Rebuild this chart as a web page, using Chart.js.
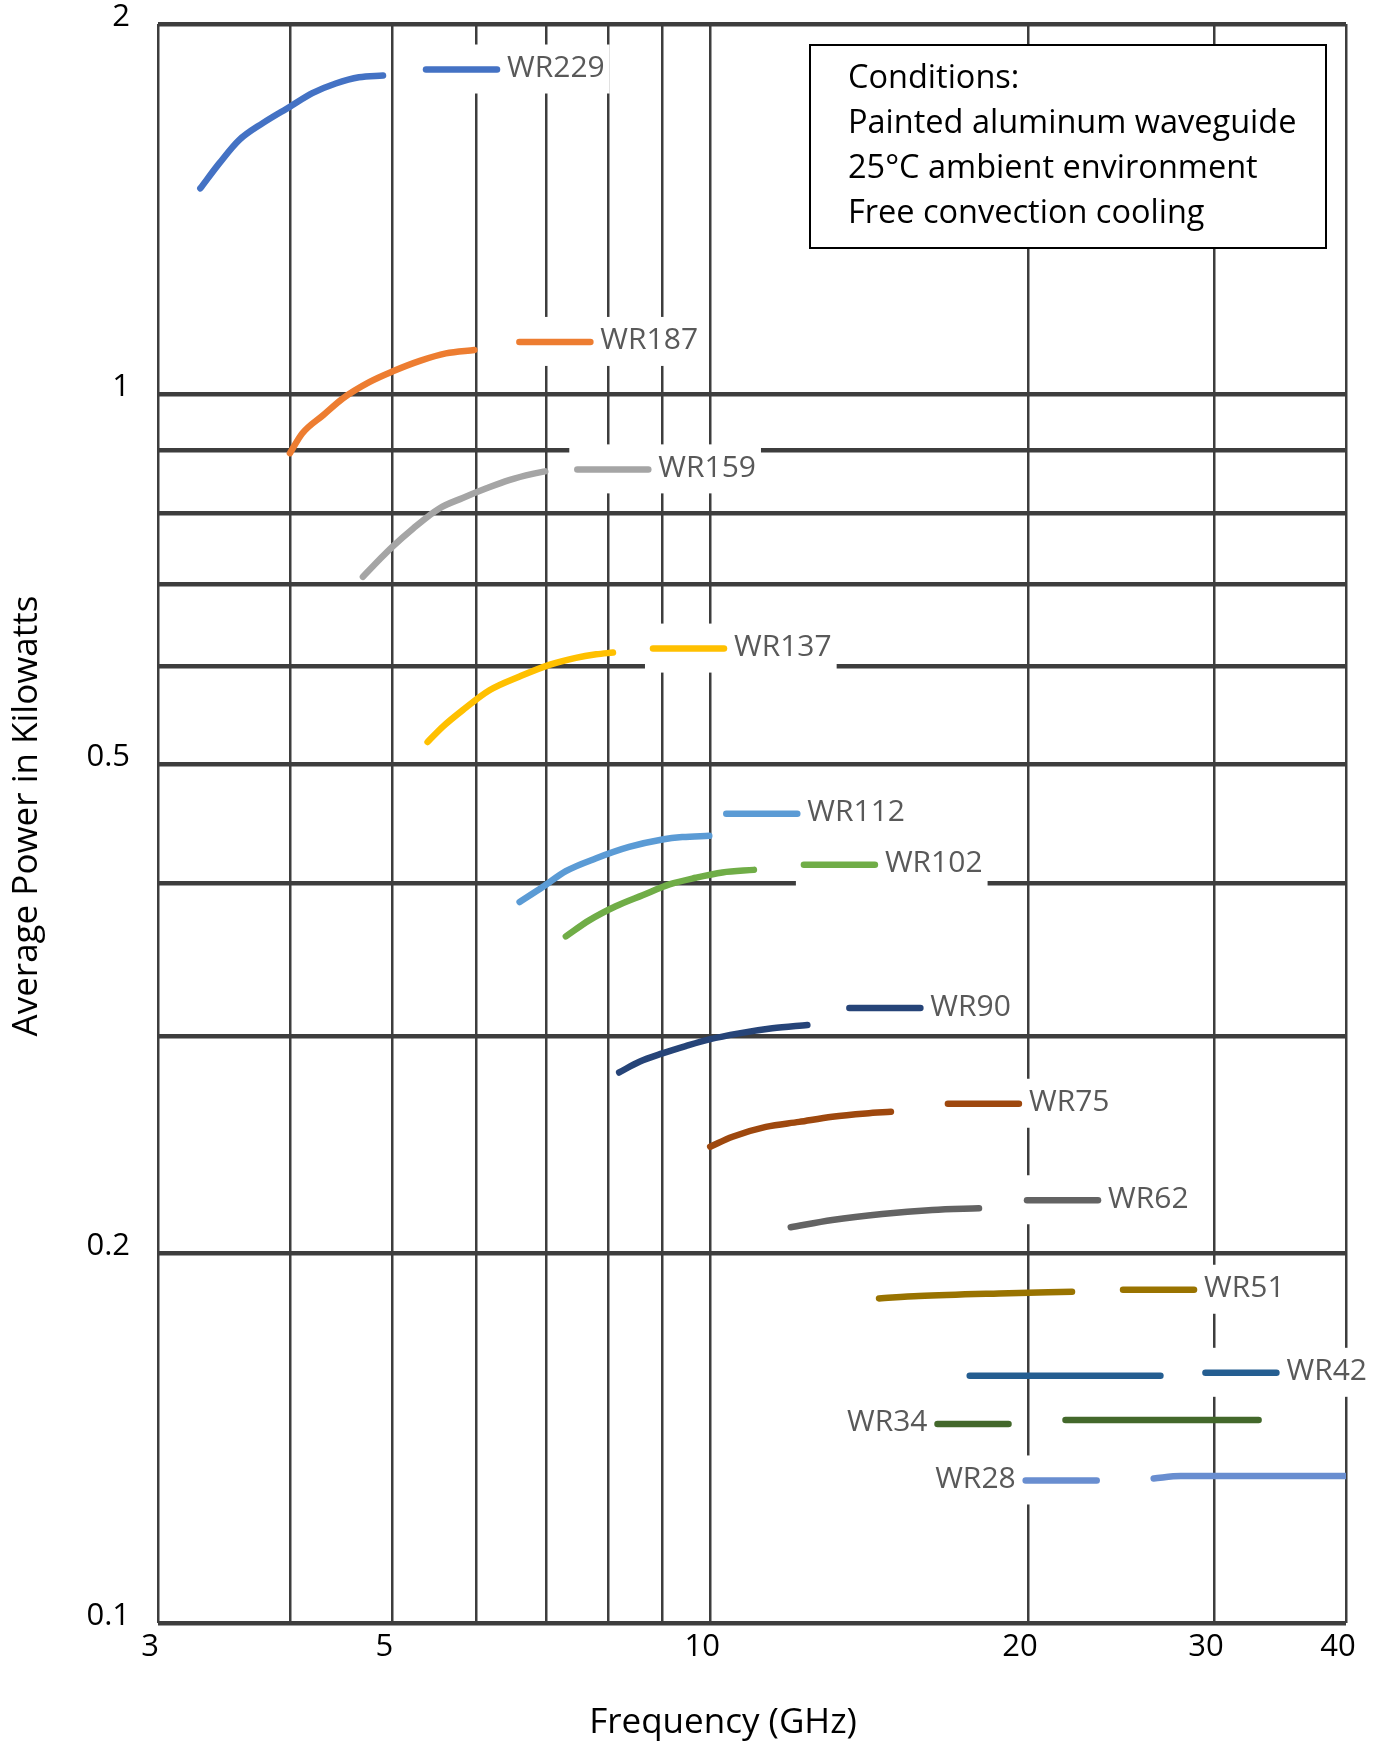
<!DOCTYPE html>
<html>
<head>
<meta charset="utf-8">
<title>Average Power vs Frequency</title>
<script src="https://cdn.jsdelivr.net/npm/chart.js@4/dist/chart.umd.min.js"></script>
<style>
  html, body { margin: 0; padding: 0; background: #ffffff; }
  #wrap { width: 1384px; height: 1746px; }
</style>
</head>
<body>
<div id="wrap"><canvas id="c" width="1384" height="1746"></canvas></div>
<script>
// Average power handling (kW) against frequency (GHz), one pair of arrays per waveguide size
const WR229_GHz = [3.29, 3.43, 3.58, 3.77, 4.00, 4.20, 4.42, 4.65, 4.90];
const WR229_kW  = [1.470, 1.541, 1.609, 1.661, 1.713, 1.757, 1.789, 1.810, 1.816];

const WR187_GHz = [4.00, 4.11, 4.30, 4.49, 4.76, 5.00, 5.31, 5.62, 5.98];
const WR187_kW  = [0.895, 0.929, 0.961, 0.992, 1.023, 1.043, 1.064, 1.079, 1.086];

const WR159_GHz = [4.69, 4.86, 5.00, 5.23, 5.54, 5.83, 6.14, 6.45, 6.79, 6.98];
const WR159_kW  = [0.710, 0.733, 0.751, 0.777, 0.807, 0.823, 0.838, 0.851, 0.861, 0.865];

const WR137_GHz = [5.40, 5.58, 5.83, 6.18, 6.60, 7.04, 7.46, 7.80, 8.09];
const WR137_kW  = [0.521, 0.536, 0.553, 0.574, 0.589, 0.602, 0.610, 0.614, 0.616];

const WR112_GHz = [6.60, 6.94, 7.30, 7.80, 8.38, 9.01, 9.41, 9.98];
const WR112_kW  = [0.386, 0.397, 0.409, 0.419, 0.428, 0.434, 0.436, 0.437];

const WR102_GHz = [7.30, 7.68, 8.14, 8.63, 9.15, 9.69, 10.27, 11.0];
const WR102_kW  = [0.362, 0.373, 0.383, 0.391, 0.399, 0.404, 0.408, 0.410];

const WR90_GHz  = [8.20, 8.57, 9.01, 9.48, 9.98, 10.65, 11.45, 12.36];
const WR90_kW   = [0.2805, 0.2862, 0.2907, 0.2947, 0.2984, 0.3018, 0.3047, 0.3066];

const WR75_GHz  = [10.0, 10.5, 11.29, 12.14, 13.05, 14.04, 14.83];
const WR75_kW   = [0.2441, 0.2487, 0.2533, 0.2557, 0.2582, 0.2598, 0.2606];

const WR62_GHz  = [11.92, 13.05, 14.55, 16.23, 17.97];
const WR62_kW   = [0.2099, 0.2128, 0.2152, 0.2168, 0.2175];

const WR51_GHz  = [14.45, 15.76, 18.77, 22.01];
const WR51_kW   = [0.1837, 0.1845, 0.1854, 0.1860];

const WR42_GHz  = [17.61, 22.0, 26.69];
const WR42_kW   = [0.1589, 0.1589, 0.1589];

const WR34_GHz  = [21.7, 27.0, 33.06];
const WR34_kW   = [0.1463, 0.1463, 0.1463];

const WR28_GHz  = [26.3, 27.9, 40.0];
const WR28_kW   = [0.1311, 0.1317, 0.1317];

const seriesNames = ['WR229', 'WR187', 'WR159', 'WR137', 'WR112', 'WR102', 'WR90',
                     'WR75', 'WR62', 'WR51', 'WR42', 'WR34', 'WR28'];
const seriesFreq  = [WR229_GHz, WR187_GHz, WR159_GHz, WR137_GHz, WR112_GHz, WR102_GHz, WR90_GHz,
                     WR75_GHz, WR62_GHz, WR51_GHz, WR42_GHz, WR34_GHz, WR28_GHz];
const seriesPower = [WR229_kW, WR187_kW, WR159_kW, WR137_kW, WR112_kW, WR102_kW, WR90_kW,
                     WR75_kW, WR62_kW, WR51_kW, WR42_kW, WR34_kW, WR28_kW];

// Axis ticks (log scales): every value gets a grid line, only some carry a label
const xTickValues = [3, 4, 5, 6, 7, 8, 9, 10, 20, 30, 40];
const xTickLabels = ['3', '', '5', '', '', '', '', '10', '20', '30', '40'];
const yTickValues = [0.1, 0.2, 0.3, 0.4, 0.5, 0.6, 0.7, 0.8, 0.9, 1, 2];
const yTickLabels = ['0.1', '0.2', '', '', '0.5', '', '', '', '', '1', '2'];

const xTitle = 'Frequency (GHz)';
const yTitle = 'Average Power in Kilowatts';
const conditionLines = ['Conditions:', 'Painted aluminum waveguide',
                        '25\u00B0C ambient environment', 'Free convection cooling'];

// ---- styling ----
const seriesColors = ['#4472C4', '#ED7D31', '#A5A5A5', '#FFC000', '#5B9BD5', '#70AD47', '#264478',
                      '#9E480E', '#636363', '#997300', '#255E91', '#43682B', '#698ED0'];
// label placement: anchored to last ('end') or first ('start') point, pixel shift of the key line
const labelPlacement = [
  ['end', 40, -6], ['end', 42, -8], ['end', 29, -2], ['end', 37, -4], ['end', 14, -22],
  ['end', 47, -5], ['end', 39, -17], ['end', 54, -8], ['end', 45, -8], ['end', 48, -2],
  ['end', 42, -3], ['start', -54, 4], ['start', -54, 2]
];
const FONT = '"Open Sans", "Noto Sans", "DejaVu Sans", sans-serif';
const GRID = '#3d3d3d';
const CANVAS_W = 1384, CANVAS_H = 1746;
const AREA = { left: 158, right: 1346, top: 24, bottom: 1623 };

const datasets = seriesNames.map((name, i) => ({
  label: name,
  data: seriesFreq[i].map((f, k) => ({ x: f, y: seriesPower[i][k] })),
  borderColor: seriesColors[i],
  backgroundColor: seriesColors[i],
  borderWidth: 6.5,
  borderCapStyle: 'round',
  borderJoinStyle: 'round',
  pointRadius: 0,
  pointHoverRadius: 0,
  cubicInterpolationMode: 'monotone',
  fill: false,
  clip: { left: 0, right: 0, top: 0, bottom: 0 }
}));

// Inline series labels: white box, short key line in the series colour, name text
const seriesLabelPlugin = {
  id: 'seriesLabels',
  afterDatasetsDraw(chart) {
    const ctx = chart.ctx;
    const xs = chart.scales.x, ys = chart.scales.y;
    const KEY = 77, GAP = 7;
    ctx.save();
    ctx.font = '30px ' + FONT;
    chart.data.datasets.forEach((ds, i) => {
      const [anchor, dx, dy] = labelPlacement[i];
      const pt = anchor === 'end' ? ds.data[ds.data.length - 1] : ds.data[0];
      const px = xs.getPixelForValue(pt.x), py = ys.getPixelForValue(pt.y);
      const y = py + dy;
      const tw = ctx.measureText(ds.label).width;
      let k0, k1, tx, boxL, boxR;
      if (anchor === 'end') {
        k0 = px + dx; k1 = k0 + KEY; tx = k1 + GAP;
        boxL = k0 - 5; boxR = tx + tw + 5;
      } else {
        k1 = px + dx; k0 = k1 - KEY; tx = k0 - GAP - tw;
        boxL = tx - 5; boxR = k1 + 5;
      }
      ctx.fillStyle = '#ffffff';
      ctx.fillRect(boxL, y - 25, boxR - boxL, 49);
      ctx.strokeStyle = ds.borderColor;
      ctx.lineWidth = 6.5;
      ctx.lineCap = 'round';
      ctx.beginPath();
      ctx.moveTo(k0 + 3, y);
      ctx.lineTo(k1 - 3, y);
      ctx.stroke();
      ctx.fillStyle = '#595959';
      ctx.textAlign = 'left';
      ctx.textBaseline = 'middle';
      ctx.fillText(ds.label, tx, y - 1);
    });
    ctx.restore();
  }
};

// Conditions note box and the two axis titles
const annotationPlugin = {
  id: 'annotations',
  afterDraw(chart) {
    const ctx = chart.ctx;
    ctx.save();
    // note box
    const bx = 810, by = 45, bw = 516, bh = 203;
    ctx.fillStyle = '#ffffff';
    ctx.fillRect(bx, by, bw, bh);
    ctx.strokeStyle = '#000000';
    ctx.lineWidth = 2;
    ctx.strokeRect(bx, by, bw, bh);
    ctx.fillStyle = '#000000';
    ctx.font = '32.5px ' + FONT;
    ctx.textAlign = 'left';
    ctx.textBaseline = 'middle';
    conditionLines.forEach((t, i) => ctx.fillText(t, 848, 79 + i * 45));
    // axis titles
    ctx.font = '35px ' + FONT;
    ctx.textAlign = 'center';
    ctx.fillText(xTitle, 723, 1723);
    ctx.translate(27, 816);
    ctx.rotate(-Math.PI / 2);
    ctx.fillText(yTitle, 0, 0);
    ctx.restore();
  }
};

new Chart(document.getElementById('c'), {
  type: 'line',
  data: { datasets },
  options: {
    responsive: false,
    devicePixelRatio: 1,
    animation: false,
    events: [],
    layout: { padding: { left: 0, top: AREA.top, right: CANVAS_W - AREA.right, bottom: 0 } },
    plugins: { legend: { display: false }, tooltip: { enabled: false }, title: { display: false } },
    scales: {
      x: {
        type: 'logarithmic',
        position: 'bottom',
        min: 3, max: 40,
        afterBuildTicks: s => { s.ticks = xTickValues.map(v => ({ value: v })); },
        afterFit: s => { s.height = CANVAS_H - AREA.bottom; s.paddingLeft = 0; s.paddingRight = 0; },
        ticks: {
          autoSkip: false, maxRotation: 0, minRotation: 0,
          padding: 6, labelOffset: -8,
          color: '#000000',
          font: { family: FONT, size: 31 },
          callback: v => { const i = xTickValues.indexOf(v); return i >= 0 ? xTickLabels[i] : ''; }
        },
        grid: { color: GRID, lineWidth: 2.5, drawTicks: false },
        border: { display: false }
      },
      y: {
        type: 'logarithmic',
        position: 'left',
        min: 0.1, max: 2,
        afterBuildTicks: s => { s.ticks = yTickValues.map(v => ({ value: v })); },
        afterFit: s => { s.width = AREA.left; s.paddingTop = 0; s.paddingBottom = 0; },
        ticks: {
          autoSkip: false,
          padding: 28, labelOffset: -7,
          color: '#000000',
          font: { family: FONT, size: 31 },
          callback: v => { const i = yTickValues.findIndex(t => Math.abs(t - v) < 1e-9); return i >= 0 ? yTickLabels[i] : ''; }
        },
        grid: { color: GRID, lineWidth: 4.5, drawTicks: false },
        border: { display: false }
      }
    }
  },
  plugins: [seriesLabelPlugin, annotationPlugin]
});
</script>
</body>
</html>
